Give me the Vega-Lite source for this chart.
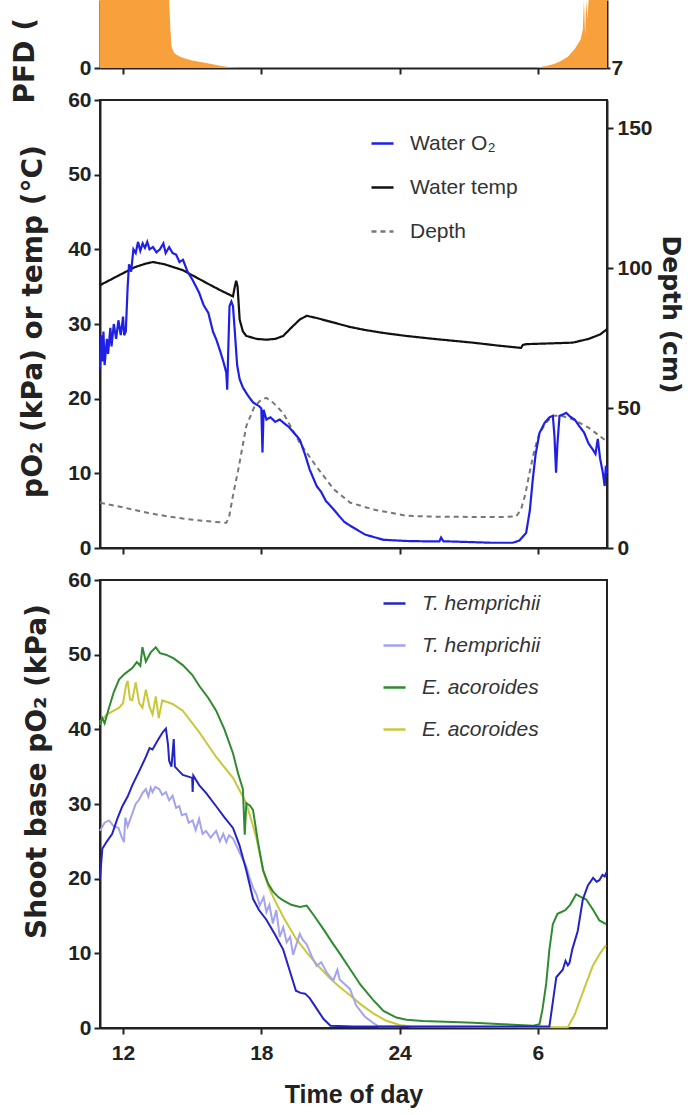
{
  "$schema": "https://vega.github.io/schema/vega-lite/v6.json",
  "background": "white",
  "padding": {"left": 11, "top": 0, "right": 2, "bottom": 2},
  "config": {
    "view": {"stroke": null},
    "axis": {
      "grid": false, "domainColor": "#222", "domainWidth": 2, "tickColor": "#222", "tickWidth": 2, "tickSize": 6,
      "labelFont": "Liberation Sans", "labelFontWeight": "bold", "labelFontSize": 21, "labelColor": "#222", "labelPadding": 3,
      "titleFont": "DejaVu Sans", "titleFontWeight": "bold", "titleFontSize": 28, "titleColor": "#222"
    },
    "legend": {
      "orient": "none", "title": null, "symbolType": "stroke", "symbolSize": 484, "symbolStrokeWidth": 2.5,
      "labelFont": "Liberation Sans", "labelFontSize": 21, "labelColor": "#333",
      "labelOffset": 15, "padding": 0
    }
  },
  "datasets": {
    "pfd": [
      {"time": 11.0, "pfd": 1500}, {"time": 11.5, "pfd": 1600}, {"time": 12.0, "pfd": 1700}, {"time": 12.5, "pfd": 1800},
      {"time": 13.0, "pfd": 1850}, {"time": 13.5, "pfd": 1800}, {"time": 13.9, "pfd": 1600}, {"time": 13.95, "pfd": 1200},
      {"time": 14.0, "pfd": 500}, {"time": 14.05, "pfd": 150}, {"time": 14.1, "pfd": 80}, {"time": 14.2, "pfd": 58},
      {"time": 14.3, "pfd": 50}, {"time": 14.5, "pfd": 40}, {"time": 14.8, "pfd": 32}, {"time": 15.0, "pfd": 28},
      {"time": 15.25, "pfd": 24}, {"time": 15.6, "pfd": 18}, {"time": 16.0, "pfd": 12}, {"time": 16.2, "pfd": 8},
      {"time": 16.5, "pfd": 5}, {"time": 16.8, "pfd": 2}, {"time": 17.1, "pfd": 0}, {"time": 29.9, "pfd": 0},
      {"time": 30.0, "pfd": 2}, {"time": 30.4, "pfd": 8}, {"time": 30.7, "pfd": 15}, {"time": 31.0, "pfd": 26},
      {"time": 31.3, "pfd": 41}, {"time": 31.6, "pfd": 70}, {"time": 31.85, "pfd": 104}, {"time": 31.95, "pfd": 140},
      {"time": 32.0, "pfd": 400}, {"time": 32.05, "pfd": 120}, {"time": 32.1, "pfd": 500}, {"time": 32.15, "pfd": 180},
      {"time": 32.2, "pfd": 700}, {"time": 32.3, "pfd": 900}, {"time": 32.35, "pfd": 300}, {"time": 32.4, "pfd": 1000},
      {"time": 32.5, "pfd": 1100}, {"time": 32.55, "pfd": 400}, {"time": 32.6, "pfd": 1150}, {"time": 32.8, "pfd": 1250},
      {"time": 33.0, "pfd": 1300}
    ],
    "water": [
      {"time": 11.0, "series": "Water temp", "value": 35.2}, {"time": 11.5, "series": "Water temp", "value": 36.0},
      {"time": 12.0, "series": "Water temp", "value": 36.8}, {"time": 12.5, "series": "Water temp", "value": 37.6},
      {"time": 13.0, "series": "Water temp", "value": 38.1}, {"time": 13.3, "series": "Water temp", "value": 38.3},
      {"time": 13.8, "series": "Water temp", "value": 38.0}, {"time": 14.2, "series": "Water temp", "value": 37.6},
      {"time": 14.6, "series": "Water temp", "value": 37.2}, {"time": 15.2, "series": "Water temp", "value": 36.2},
      {"time": 15.8, "series": "Water temp", "value": 35.2}, {"time": 16.3, "series": "Water temp", "value": 34.4},
      {"time": 16.77, "series": "Water temp", "value": 33.7}, {"time": 16.85, "series": "Water temp", "value": 35.0},
      {"time": 16.91, "series": "Water temp", "value": 35.8}, {"time": 16.97, "series": "Water temp", "value": 35.0},
      {"time": 17.06, "series": "Water temp", "value": 30.6}, {"time": 17.2, "series": "Water temp", "value": 29.0},
      {"time": 17.35, "series": "Water temp", "value": 28.4}, {"time": 17.8, "series": "Water temp", "value": 28.0},
      {"time": 18.22, "series": "Water temp", "value": 27.9}, {"time": 18.6, "series": "Water temp", "value": 28.0},
      {"time": 18.95, "series": "Water temp", "value": 28.4}, {"time": 19.3, "series": "Water temp", "value": 29.5},
      {"time": 19.67, "series": "Water temp", "value": 30.6}, {"time": 19.97, "series": "Water temp", "value": 31.1},
      {"time": 20.4, "series": "Water temp", "value": 30.8}, {"time": 21.13, "series": "Water temp", "value": 30.2},
      {"time": 21.85, "series": "Water temp", "value": 29.6}, {"time": 22.5, "series": "Water temp", "value": 29.2},
      {"time": 23.3, "series": "Water temp", "value": 28.8}, {"time": 24.29, "series": "Water temp", "value": 28.4},
      {"time": 25.5, "series": "Water temp", "value": 28.0}, {"time": 27.18, "series": "Water temp", "value": 27.5},
      {"time": 28.3, "series": "Water temp", "value": 27.1}, {"time": 29.27, "series": "Water temp", "value": 26.8},
      {"time": 29.35, "series": "Water temp", "value": 27.2}, {"time": 29.49, "series": "Water temp", "value": 27.3},
      {"time": 30.5, "series": "Water temp", "value": 27.4}, {"time": 31.51, "series": "Water temp", "value": 27.5},
      {"time": 32.2, "series": "Water temp", "value": 28.0}, {"time": 32.7, "series": "Water temp", "value": 28.6},
      {"time": 33.0, "series": "Water temp", "value": 29.3},
      {"time": 11.0, "series": "Water O₂", "value": 24}, {"time": 11.05, "series": "Water O₂", "value": 28.5},
      {"time": 11.1, "series": "Water O₂", "value": 25}, {"time": 11.15, "series": "Water O₂", "value": 29},
      {"time": 11.2, "series": "Water O₂", "value": 24.5}, {"time": 11.3, "series": "Water O₂", "value": 28},
      {"time": 11.35, "series": "Water O₂", "value": 26}, {"time": 11.45, "series": "Water O₂", "value": 29.5},
      {"time": 11.5, "series": "Water O₂", "value": 27}, {"time": 11.6, "series": "Water O₂", "value": 30},
      {"time": 11.7, "series": "Water O₂", "value": 28}, {"time": 11.8, "series": "Water O₂", "value": 30.5},
      {"time": 11.9, "series": "Water O₂", "value": 28.5}, {"time": 12.0, "series": "Water O₂", "value": 31},
      {"time": 12.05, "series": "Water O₂", "value": 28.5}, {"time": 12.12, "series": "Water O₂", "value": 29},
      {"time": 12.2, "series": "Water O₂", "value": 35}, {"time": 12.26, "series": "Water O₂", "value": 38},
      {"time": 12.35, "series": "Water O₂", "value": 37}, {"time": 12.45, "series": "Water O₂", "value": 40},
      {"time": 12.55, "series": "Water O₂", "value": 39.5}, {"time": 12.65, "series": "Water O₂", "value": 41},
      {"time": 12.75, "series": "Water O₂", "value": 39.8}, {"time": 12.85, "series": "Water O₂", "value": 40.8},
      {"time": 12.95, "series": "Water O₂", "value": 40.2}, {"time": 13.05, "series": "Water O₂", "value": 41},
      {"time": 13.15, "series": "Water O₂", "value": 40}, {"time": 13.3, "series": "Water O₂", "value": 40.3},
      {"time": 13.45, "series": "Water O₂", "value": 39.6}, {"time": 13.6, "series": "Water O₂", "value": 40},
      {"time": 13.75, "series": "Water O₂", "value": 40.8}, {"time": 13.85, "series": "Water O₂", "value": 39.5},
      {"time": 14.0, "series": "Water O₂", "value": 40.3}, {"time": 14.15, "series": "Water O₂", "value": 39.5},
      {"time": 14.3, "series": "Water O₂", "value": 39.3}, {"time": 14.45, "series": "Water O₂", "value": 38.3},
      {"time": 14.6, "series": "Water O₂", "value": 38.6}, {"time": 14.8, "series": "Water O₂", "value": 37},
      {"time": 15.0, "series": "Water O₂", "value": 36}, {"time": 15.3, "series": "Water O₂", "value": 34.2},
      {"time": 15.5, "series": "Water O₂", "value": 32.5}, {"time": 15.7, "series": "Water O₂", "value": 31.5},
      {"time": 15.9, "series": "Water O₂", "value": 29}, {"time": 16.05, "series": "Water O₂", "value": 27.9},
      {"time": 16.2, "series": "Water O₂", "value": 26.5}, {"time": 16.35, "series": "Water O₂", "value": 25},
      {"time": 16.48, "series": "Water O₂", "value": 23.5}, {"time": 16.52, "series": "Water O₂", "value": 21.2},
      {"time": 16.57, "series": "Water O₂", "value": 27}, {"time": 16.62, "series": "Water O₂", "value": 32.4},
      {"time": 16.7, "series": "Water O₂", "value": 33}, {"time": 16.77, "series": "Water O₂", "value": 32.4},
      {"time": 16.85, "series": "Water O₂", "value": 29}, {"time": 16.95, "series": "Water O₂", "value": 24.5},
      {"time": 17.06, "series": "Water O₂", "value": 22.6}, {"time": 17.2, "series": "Water O₂", "value": 21.5},
      {"time": 17.4, "series": "Water O₂", "value": 20.5}, {"time": 17.64, "series": "Water O₂", "value": 19.5},
      {"time": 17.9, "series": "Water O₂", "value": 19}, {"time": 18.0, "series": "Water O₂", "value": 18.7},
      {"time": 18.05, "series": "Water O₂", "value": 12.8}, {"time": 18.1, "series": "Water O₂", "value": 18.5},
      {"time": 18.22, "series": "Water O₂", "value": 17.2}, {"time": 18.4, "series": "Water O₂", "value": 17.5},
      {"time": 18.6, "series": "Water O₂", "value": 16.9}, {"time": 18.8, "series": "Water O₂", "value": 17.2},
      {"time": 18.95, "series": "Water O₂", "value": 16.8}, {"time": 19.2, "series": "Water O₂", "value": 16.2},
      {"time": 19.45, "series": "Water O₂", "value": 15.3}, {"time": 19.67, "series": "Water O₂", "value": 14.5},
      {"time": 19.9, "series": "Water O₂", "value": 12.5}, {"time": 20.1, "series": "Water O₂", "value": 10.5},
      {"time": 20.4, "series": "Water O₂", "value": 8.3}, {"time": 20.6, "series": "Water O₂", "value": 7.5},
      {"time": 20.8, "series": "Water O₂", "value": 6.3}, {"time": 21.13, "series": "Water O₂", "value": 5.2},
      {"time": 21.4, "series": "Water O₂", "value": 4.2}, {"time": 21.6, "series": "Water O₂", "value": 3.5},
      {"time": 21.85, "series": "Water O₂", "value": 3.0}, {"time": 22.12, "series": "Water O₂", "value": 2.5},
      {"time": 22.5, "series": "Water O₂", "value": 1.8}, {"time": 22.84, "series": "Water O₂", "value": 1.5},
      {"time": 23.3, "series": "Water O₂", "value": 1.1}, {"time": 24.3, "series": "Water O₂", "value": 0.94},
      {"time": 25.0, "series": "Water O₂", "value": 0.9}, {"time": 25.73, "series": "Water O₂", "value": 0.9},
      {"time": 25.8, "series": "Water O₂", "value": 1.4}, {"time": 25.9, "series": "Water O₂", "value": 0.9},
      {"time": 27.0, "series": "Water O₂", "value": 0.8}, {"time": 28.0, "series": "Water O₂", "value": 0.7},
      {"time": 28.91, "series": "Water O₂", "value": 0.7}, {"time": 29.2, "series": "Water O₂", "value": 1.0},
      {"time": 29.49, "series": "Water O₂", "value": 2.0}, {"time": 29.65, "series": "Water O₂", "value": 5},
      {"time": 29.78, "series": "Water O₂", "value": 9.2}, {"time": 29.9, "series": "Water O₂", "value": 12.5},
      {"time": 30.07, "series": "Water O₂", "value": 15.4}, {"time": 30.3, "series": "Water O₂", "value": 16.8},
      {"time": 30.5, "series": "Water O₂", "value": 17.5}, {"time": 30.65, "series": "Water O₂", "value": 17.7},
      {"time": 30.72, "series": "Water O₂", "value": 15}, {"time": 30.79, "series": "Water O₂", "value": 10.1},
      {"time": 30.85, "series": "Water O₂", "value": 14}, {"time": 30.94, "series": "Water O₂", "value": 17.7},
      {"time": 31.1, "series": "Water O₂", "value": 17.9}, {"time": 31.23, "series": "Water O₂", "value": 18.1},
      {"time": 31.4, "series": "Water O₂", "value": 17.6}, {"time": 31.6, "series": "Water O₂", "value": 17.2},
      {"time": 31.8, "series": "Water O₂", "value": 16.3}, {"time": 32.0, "series": "Water O₂", "value": 15.5},
      {"time": 32.2, "series": "Water O₂", "value": 14}, {"time": 32.38, "series": "Water O₂", "value": 13.2},
      {"time": 32.5, "series": "Water O₂", "value": 12.6}, {"time": 32.6, "series": "Water O₂", "value": 14.6},
      {"time": 32.7, "series": "Water O₂", "value": 12}, {"time": 32.82, "series": "Water O₂", "value": 10.1},
      {"time": 32.9, "series": "Water O₂", "value": 8.3}, {"time": 32.95, "series": "Water O₂", "value": 11},
      {"time": 33.0, "series": "Water O₂", "value": 10}
    ],
    "depth": [
      {"time": 11.0, "series": "Depth", "depth": 16.2}, {"time": 12.0, "series": "Depth", "depth": 14.5},
      {"time": 13.1, "series": "Depth", "depth": 12.5}, {"time": 14.0, "series": "Depth", "depth": 11.2},
      {"time": 14.6, "series": "Depth", "depth": 10.5}, {"time": 15.5, "series": "Depth", "depth": 9.7},
      {"time": 16.0, "series": "Depth", "depth": 9.3}, {"time": 16.48, "series": "Depth", "depth": 9.0},
      {"time": 16.6, "series": "Depth", "depth": 11}, {"time": 16.77, "series": "Depth", "depth": 18.7},
      {"time": 17.0, "series": "Depth", "depth": 28}, {"time": 17.35, "series": "Depth", "depth": 43.6},
      {"time": 17.7, "series": "Depth", "depth": 50.5}, {"time": 18.0, "series": "Depth", "depth": 53},
      {"time": 18.22, "series": "Depth", "depth": 53.6}, {"time": 18.5, "series": "Depth", "depth": 52},
      {"time": 18.95, "series": "Depth", "depth": 48.2}, {"time": 19.3, "series": "Depth", "depth": 43},
      {"time": 19.67, "series": "Depth", "depth": 37.5}, {"time": 20.4, "series": "Depth", "depth": 29},
      {"time": 21.13, "series": "Depth", "depth": 21.1}, {"time": 21.85, "series": "Depth", "depth": 16.2},
      {"time": 22.84, "series": "Depth", "depth": 13.8}, {"time": 24.29, "series": "Depth", "depth": 11.5},
      {"time": 25.5, "series": "Depth", "depth": 11.2}, {"time": 27.0, "series": "Depth", "depth": 11.1},
      {"time": 28.5, "series": "Depth", "depth": 11.1}, {"time": 29.06, "series": "Depth", "depth": 11.3},
      {"time": 29.27, "series": "Depth", "depth": 13.8}, {"time": 29.45, "series": "Depth", "depth": 19},
      {"time": 29.64, "series": "Depth", "depth": 26.9}, {"time": 29.85, "series": "Depth", "depth": 35},
      {"time": 30.07, "series": "Depth", "depth": 41}, {"time": 30.36, "series": "Depth", "depth": 44.8},
      {"time": 30.65, "series": "Depth", "depth": 47.2}, {"time": 31.0, "series": "Depth", "depth": 47.3},
      {"time": 31.5, "series": "Depth", "depth": 46}, {"time": 32.2, "series": "Depth", "depth": 43},
      {"time": 33.0, "series": "Depth", "depth": 38}
    ],
    "shoot": [
      {"time": 11.0, "plant": "E. acoroides 2", "po2": 41}, {"time": 11.3, "plant": "E. acoroides 2", "po2": 42},
      {"time": 11.6, "plant": "E. acoroides 2", "po2": 42.5}, {"time": 11.83, "plant": "E. acoroides 2", "po2": 42.9},
      {"time": 12.0, "plant": "E. acoroides 2", "po2": 43.5}, {"time": 12.12, "plant": "E. acoroides 2", "po2": 45.8},
      {"time": 12.2, "plant": "E. acoroides 2", "po2": 46.5}, {"time": 12.3, "plant": "E. acoroides 2", "po2": 44},
      {"time": 12.4, "plant": "E. acoroides 2", "po2": 43.9}, {"time": 12.55, "plant": "E. acoroides 2", "po2": 46.3},
      {"time": 12.7, "plant": "E. acoroides 2", "po2": 43.5}, {"time": 12.84, "plant": "E. acoroides 2", "po2": 42.9},
      {"time": 12.99, "plant": "E. acoroides 2", "po2": 45.3}, {"time": 13.15, "plant": "E. acoroides 2", "po2": 43},
      {"time": 13.28, "plant": "E. acoroides 2", "po2": 42.0}, {"time": 13.42, "plant": "E. acoroides 2", "po2": 44.4},
      {"time": 13.55, "plant": "E. acoroides 2", "po2": 41.5}, {"time": 13.7, "plant": "E. acoroides 2", "po2": 43.9},
      {"time": 14.15, "plant": "E. acoroides 2", "po2": 43.4}, {"time": 14.59, "plant": "E. acoroides 2", "po2": 42.5},
      {"time": 15.31, "plant": "E. acoroides 2", "po2": 39.6}, {"time": 16.04, "plant": "E. acoroides 2", "po2": 36.3},
      {"time": 16.77, "plant": "E. acoroides 2", "po2": 33.5}, {"time": 17.35, "plant": "E. acoroides 2", "po2": 30.1},
      {"time": 17.6, "plant": "E. acoroides 2", "po2": 27.5}, {"time": 17.79, "plant": "E. acoroides 2", "po2": 25.4},
      {"time": 18.08, "plant": "E. acoroides 2", "po2": 21.1}, {"time": 18.3, "plant": "E. acoroides 2", "po2": 19},
      {"time": 18.6, "plant": "E. acoroides 2", "po2": 17}, {"time": 19.0, "plant": "E. acoroides 2", "po2": 14.6},
      {"time": 19.5, "plant": "E. acoroides 2", "po2": 12}, {"time": 20.0, "plant": "E. acoroides 2", "po2": 10},
      {"time": 20.5, "plant": "E. acoroides 2", "po2": 8.2}, {"time": 21.0, "plant": "E. acoroides 2", "po2": 6.6},
      {"time": 21.4, "plant": "E. acoroides 2", "po2": 5.5}, {"time": 21.85, "plant": "E. acoroides 2", "po2": 4.4},
      {"time": 22.3, "plant": "E. acoroides 2", "po2": 3.2}, {"time": 22.84, "plant": "E. acoroides 2", "po2": 2.0},
      {"time": 23.4, "plant": "E. acoroides 2", "po2": 1.0}, {"time": 24.0, "plant": "E. acoroides 2", "po2": 0.4},
      {"time": 24.5, "plant": "E. acoroides 2", "po2": 0.2}, {"time": 31.3, "plant": "E. acoroides 2", "po2": 0.1},
      {"time": 31.6, "plant": "E. acoroides 2", "po2": 1.8}, {"time": 31.8, "plant": "E. acoroides 2", "po2": 3.5},
      {"time": 32.1, "plant": "E. acoroides 2", "po2": 6}, {"time": 32.38, "plant": "E. acoroides 2", "po2": 8.3},
      {"time": 32.7, "plant": "E. acoroides 2", "po2": 10}, {"time": 32.96, "plant": "E. acoroides 2", "po2": 11.1},

      {"time": 11.0, "plant": "T. hemprichii 2", "po2": 26.4}, {"time": 11.2, "plant": "T. hemprichii 2", "po2": 27.5},
      {"time": 11.39, "plant": "T. hemprichii 2", "po2": 27.8}, {"time": 11.6, "plant": "T. hemprichii 2", "po2": 27},
      {"time": 11.8, "plant": "T. hemprichii 2", "po2": 26.8}, {"time": 11.95, "plant": "T. hemprichii 2", "po2": 25.5},
      {"time": 12.04, "plant": "T. hemprichii 2", "po2": 24.9}, {"time": 12.1, "plant": "T. hemprichii 2", "po2": 28.2},
      {"time": 12.2, "plant": "T. hemprichii 2", "po2": 27}, {"time": 12.4, "plant": "T. hemprichii 2", "po2": 28.7},
      {"time": 12.55, "plant": "T. hemprichii 2", "po2": 30}, {"time": 12.7, "plant": "T. hemprichii 2", "po2": 30.6},
      {"time": 12.85, "plant": "T. hemprichii 2", "po2": 31.5}, {"time": 12.99, "plant": "T. hemprichii 2", "po2": 32.0},
      {"time": 13.1, "plant": "T. hemprichii 2", "po2": 31}, {"time": 13.2, "plant": "T. hemprichii 2", "po2": 32.2},
      {"time": 13.28, "plant": "T. hemprichii 2", "po2": 31.6}, {"time": 13.4, "plant": "T. hemprichii 2", "po2": 32.3},
      {"time": 13.57, "plant": "T. hemprichii 2", "po2": 32.0}, {"time": 13.7, "plant": "T. hemprichii 2", "po2": 31.2},
      {"time": 13.86, "plant": "T. hemprichii 2", "po2": 31.6}, {"time": 14.0, "plant": "T. hemprichii 2", "po2": 30.5},
      {"time": 14.15, "plant": "T. hemprichii 2", "po2": 31.1}, {"time": 14.3, "plant": "T. hemprichii 2", "po2": 29.5},
      {"time": 14.44, "plant": "T. hemprichii 2", "po2": 29.7}, {"time": 14.55, "plant": "T. hemprichii 2", "po2": 28.5},
      {"time": 14.73, "plant": "T. hemprichii 2", "po2": 28.7}, {"time": 14.85, "plant": "T. hemprichii 2", "po2": 27.5},
      {"time": 15.02, "plant": "T. hemprichii 2", "po2": 27.8}, {"time": 15.15, "plant": "T. hemprichii 2", "po2": 26.5},
      {"time": 15.3, "plant": "T. hemprichii 2", "po2": 28}, {"time": 15.45, "plant": "T. hemprichii 2", "po2": 26},
      {"time": 15.6, "plant": "T. hemprichii 2", "po2": 26.4}, {"time": 15.8, "plant": "T. hemprichii 2", "po2": 25.5},
      {"time": 16.04, "plant": "T. hemprichii 2", "po2": 26.4}, {"time": 16.2, "plant": "T. hemprichii 2", "po2": 25},
      {"time": 16.35, "plant": "T. hemprichii 2", "po2": 26}, {"time": 16.48, "plant": "T. hemprichii 2", "po2": 24.9},
      {"time": 16.6, "plant": "T. hemprichii 2", "po2": 25.8}, {"time": 16.77, "plant": "T. hemprichii 2", "po2": 25.4},
      {"time": 17.06, "plant": "T. hemprichii 2", "po2": 23.5}, {"time": 17.35, "plant": "T. hemprichii 2", "po2": 21.6},
      {"time": 17.5, "plant": "T. hemprichii 2", "po2": 20}, {"time": 17.64, "plant": "T. hemprichii 2", "po2": 18.8},
      {"time": 17.8, "plant": "T. hemprichii 2", "po2": 17.8}, {"time": 17.93, "plant": "T. hemprichii 2", "po2": 16.4},
      {"time": 18.1, "plant": "T. hemprichii 2", "po2": 17.5}, {"time": 18.22, "plant": "T. hemprichii 2", "po2": 15.5},
      {"time": 18.35, "plant": "T. hemprichii 2", "po2": 16.5}, {"time": 18.5, "plant": "T. hemprichii 2", "po2": 14},
      {"time": 18.65, "plant": "T. hemprichii 2", "po2": 15.8}, {"time": 18.8, "plant": "T. hemprichii 2", "po2": 12.2},
      {"time": 18.95, "plant": "T. hemprichii 2", "po2": 13.5}, {"time": 19.1, "plant": "T. hemprichii 2", "po2": 11.5},
      {"time": 19.25, "plant": "T. hemprichii 2", "po2": 12.2}, {"time": 19.38, "plant": "T. hemprichii 2", "po2": 9.8},
      {"time": 19.5, "plant": "T. hemprichii 2", "po2": 11}, {"time": 19.67, "plant": "T. hemprichii 2", "po2": 12.6},
      {"time": 19.8, "plant": "T. hemprichii 2", "po2": 11.8}, {"time": 19.97, "plant": "T. hemprichii 2", "po2": 11.2},
      {"time": 20.2, "plant": "T. hemprichii 2", "po2": 9.5}, {"time": 20.4, "plant": "T. hemprichii 2", "po2": 8.3},
      {"time": 20.6, "plant": "T. hemprichii 2", "po2": 8.8}, {"time": 20.84, "plant": "T. hemprichii 2", "po2": 7.4},
      {"time": 21.0, "plant": "T. hemprichii 2", "po2": 6.8}, {"time": 21.13, "plant": "T. hemprichii 2", "po2": 6.4},
      {"time": 21.3, "plant": "T. hemprichii 2", "po2": 7.8}, {"time": 21.4, "plant": "T. hemprichii 2", "po2": 6.5},
      {"time": 21.85, "plant": "T. hemprichii 2", "po2": 5.2}, {"time": 22.12, "plant": "T. hemprichii 2", "po2": 3},
      {"time": 22.5, "plant": "T. hemprichii 2", "po2": 1.5}, {"time": 22.84, "plant": "T. hemprichii 2", "po2": 0.7},
      {"time": 23.1, "plant": "T. hemprichii 2", "po2": 0.2}, {"time": 24.0, "plant": "T. hemprichii 2", "po2": 0.2},

      {"time": 11.0, "plant": "E. acoroides 1", "po2": 40.6}, {"time": 11.1, "plant": "E. acoroides 1", "po2": 41.5},
      {"time": 11.2, "plant": "E. acoroides 1", "po2": 40.8}, {"time": 11.39, "plant": "E. acoroides 1", "po2": 42.9},
      {"time": 11.6, "plant": "E. acoroides 1", "po2": 45}, {"time": 11.83, "plant": "E. acoroides 1", "po2": 46.7},
      {"time": 12.1, "plant": "E. acoroides 1", "po2": 47.5}, {"time": 12.4, "plant": "E. acoroides 1", "po2": 48.2},
      {"time": 12.6, "plant": "E. acoroides 1", "po2": 49}, {"time": 12.75, "plant": "E. acoroides 1", "po2": 48.5},
      {"time": 12.84, "plant": "E. acoroides 1", "po2": 51.0}, {"time": 12.99, "plant": "E. acoroides 1", "po2": 49.1},
      {"time": 13.2, "plant": "E. acoroides 1", "po2": 50.3}, {"time": 13.42, "plant": "E. acoroides 1", "po2": 51.0},
      {"time": 13.6, "plant": "E. acoroides 1", "po2": 50.2}, {"time": 13.86, "plant": "E. acoroides 1", "po2": 50.0},
      {"time": 14.2, "plant": "E. acoroides 1", "po2": 49.5}, {"time": 14.59, "plant": "E. acoroides 1", "po2": 48.6},
      {"time": 15.0, "plant": "E. acoroides 1", "po2": 47.3}, {"time": 15.31, "plant": "E. acoroides 1", "po2": 45.8},
      {"time": 15.7, "plant": "E. acoroides 1", "po2": 44.2}, {"time": 16.04, "plant": "E. acoroides 1", "po2": 42.5},
      {"time": 16.4, "plant": "E. acoroides 1", "po2": 40}, {"time": 16.77, "plant": "E. acoroides 1", "po2": 36.8},
      {"time": 17.0, "plant": "E. acoroides 1", "po2": 34}, {"time": 17.2, "plant": "E. acoroides 1", "po2": 32.0},
      {"time": 17.28, "plant": "E. acoroides 1", "po2": 25.9}, {"time": 17.35, "plant": "E. acoroides 1", "po2": 30.1},
      {"time": 17.5, "plant": "E. acoroides 1", "po2": 29.8}, {"time": 17.64, "plant": "E. acoroides 1", "po2": 29.2},
      {"time": 17.85, "plant": "E. acoroides 1", "po2": 25}, {"time": 18.08, "plant": "E. acoroides 1", "po2": 21.1},
      {"time": 18.3, "plant": "E. acoroides 1", "po2": 19.3}, {"time": 18.5, "plant": "E. acoroides 1", "po2": 18.3},
      {"time": 18.75, "plant": "E. acoroides 1", "po2": 17.5}, {"time": 18.95, "plant": "E. acoroides 1", "po2": 17.1},
      {"time": 19.3, "plant": "E. acoroides 1", "po2": 16.5}, {"time": 19.67, "plant": "E. acoroides 1", "po2": 16.2},
      {"time": 19.97, "plant": "E. acoroides 1", "po2": 16.4}, {"time": 20.3, "plant": "E. acoroides 1", "po2": 15},
      {"time": 20.7, "plant": "E. acoroides 1", "po2": 13.2}, {"time": 21.13, "plant": "E. acoroides 1", "po2": 11.2},
      {"time": 21.4, "plant": "E. acoroides 1", "po2": 10.0}, {"time": 21.85, "plant": "E. acoroides 1", "po2": 7.9},
      {"time": 22.3, "plant": "E. acoroides 1", "po2": 5.8}, {"time": 22.84, "plant": "E. acoroides 1", "po2": 3.8},
      {"time": 23.3, "plant": "E. acoroides 1", "po2": 2.3}, {"time": 23.86, "plant": "E. acoroides 1", "po2": 1.4},
      {"time": 24.3, "plant": "E. acoroides 1", "po2": 1.1}, {"time": 25.0, "plant": "E. acoroides 1", "po2": 0.95},
      {"time": 26.0, "plant": "E. acoroides 1", "po2": 0.85}, {"time": 27.2, "plant": "E. acoroides 1", "po2": 0.7},
      {"time": 28.5, "plant": "E. acoroides 1", "po2": 0.5}, {"time": 29.8, "plant": "E. acoroides 1", "po2": 0.3},
      {"time": 30.07, "plant": "E. acoroides 1", "po2": 0.5}, {"time": 30.2, "plant": "E. acoroides 1", "po2": 2.5},
      {"time": 30.36, "plant": "E. acoroides 1", "po2": 5.9}, {"time": 30.5, "plant": "E. acoroides 1", "po2": 10.5},
      {"time": 30.65, "plant": "E. acoroides 1", "po2": 13.9}, {"time": 30.85, "plant": "E. acoroides 1", "po2": 15.3},
      {"time": 31.0, "plant": "E. acoroides 1", "po2": 15.5}, {"time": 31.2, "plant": "E. acoroides 1", "po2": 15.8},
      {"time": 31.4, "plant": "E. acoroides 1", "po2": 16.5}, {"time": 31.66, "plant": "E. acoroides 1", "po2": 17.9},
      {"time": 31.9, "plant": "E. acoroides 1", "po2": 17.5}, {"time": 32.1, "plant": "E. acoroides 1", "po2": 17.2},
      {"time": 32.4, "plant": "E. acoroides 1", "po2": 15.8}, {"time": 32.67, "plant": "E. acoroides 1", "po2": 14.4},
      {"time": 32.96, "plant": "E. acoroides 1", "po2": 13.9},

      {"time": 11.0, "plant": "T. hemprichii 1", "po2": 20}, {"time": 11.1, "plant": "T. hemprichii 1", "po2": 24},
      {"time": 11.3, "plant": "T. hemprichii 1", "po2": 25}, {"time": 11.53, "plant": "T. hemprichii 1", "po2": 26},
      {"time": 11.75, "plant": "T. hemprichii 1", "po2": 28}, {"time": 11.97, "plant": "T. hemprichii 1", "po2": 29.7},
      {"time": 12.2, "plant": "T. hemprichii 1", "po2": 31}, {"time": 12.4, "plant": "T. hemprichii 1", "po2": 32.5},
      {"time": 12.7, "plant": "T. hemprichii 1", "po2": 34.4}, {"time": 12.99, "plant": "T. hemprichii 1", "po2": 36.3},
      {"time": 13.15, "plant": "T. hemprichii 1", "po2": 37.5}, {"time": 13.28, "plant": "T. hemprichii 1", "po2": 37.3},
      {"time": 13.5, "plant": "T. hemprichii 1", "po2": 38.5}, {"time": 13.72, "plant": "T. hemprichii 1", "po2": 39.6},
      {"time": 13.86, "plant": "T. hemprichii 1", "po2": 40.1}, {"time": 13.95, "plant": "T. hemprichii 1", "po2": 38},
      {"time": 14.0, "plant": "T. hemprichii 1", "po2": 35.8}, {"time": 14.1, "plant": "T. hemprichii 1", "po2": 35},
      {"time": 14.2, "plant": "T. hemprichii 1", "po2": 38.7}, {"time": 14.25, "plant": "T. hemprichii 1", "po2": 35},
      {"time": 14.4, "plant": "T. hemprichii 1", "po2": 34.5}, {"time": 14.59, "plant": "T. hemprichii 1", "po2": 33.9},
      {"time": 14.8, "plant": "T. hemprichii 1", "po2": 33.7}, {"time": 15.0, "plant": "T. hemprichii 1", "po2": 33.5},
      {"time": 15.02, "plant": "T. hemprichii 1", "po2": 31.6}, {"time": 15.05, "plant": "T. hemprichii 1", "po2": 33.8},
      {"time": 15.31, "plant": "T. hemprichii 1", "po2": 32.5}, {"time": 15.6, "plant": "T. hemprichii 1", "po2": 31.5},
      {"time": 16.04, "plant": "T. hemprichii 1", "po2": 29.7}, {"time": 16.4, "plant": "T. hemprichii 1", "po2": 28.2},
      {"time": 16.77, "plant": "T. hemprichii 1", "po2": 26.8}, {"time": 17.05, "plant": "T. hemprichii 1", "po2": 24.5},
      {"time": 17.35, "plant": "T. hemprichii 1", "po2": 21.1}, {"time": 17.64, "plant": "T. hemprichii 1", "po2": 17.3},
      {"time": 17.9, "plant": "T. hemprichii 1", "po2": 15.8}, {"time": 18.22, "plant": "T. hemprichii 1", "po2": 14.5},
      {"time": 18.6, "plant": "T. hemprichii 1", "po2": 12.5}, {"time": 18.95, "plant": "T. hemprichii 1", "po2": 10.5},
      {"time": 19.3, "plant": "T. hemprichii 1", "po2": 7}, {"time": 19.5, "plant": "T. hemprichii 1", "po2": 5},
      {"time": 19.7, "plant": "T. hemprichii 1", "po2": 4.7}, {"time": 19.9, "plant": "T. hemprichii 1", "po2": 4.6},
      {"time": 20.1, "plant": "T. hemprichii 1", "po2": 4}, {"time": 20.4, "plant": "T. hemprichii 1", "po2": 2.6},
      {"time": 20.7, "plant": "T. hemprichii 1", "po2": 1.2}, {"time": 21.0, "plant": "T. hemprichii 1", "po2": 0.3},
      {"time": 22.0, "plant": "T. hemprichii 1", "po2": 0.2}, {"time": 25.0, "plant": "T. hemprichii 1", "po2": 0.2},
      {"time": 28.0, "plant": "T. hemprichii 1", "po2": 0.2}, {"time": 30.5, "plant": "T. hemprichii 1", "po2": 0.2},
      {"time": 30.65, "plant": "T. hemprichii 1", "po2": 3.5}, {"time": 30.8, "plant": "T. hemprichii 1", "po2": 6.8},
      {"time": 31.08, "plant": "T. hemprichii 1", "po2": 7.8}, {"time": 31.2, "plant": "T. hemprichii 1", "po2": 9},
      {"time": 31.3, "plant": "T. hemprichii 1", "po2": 8.4}, {"time": 31.37, "plant": "T. hemprichii 1", "po2": 8.7},
      {"time": 31.5, "plant": "T. hemprichii 1", "po2": 10.6}, {"time": 31.73, "plant": "T. hemprichii 1", "po2": 13},
      {"time": 31.95, "plant": "T. hemprichii 1", "po2": 17.2}, {"time": 32.17, "plant": "T. hemprichii 1", "po2": 19.1},
      {"time": 32.4, "plant": "T. hemprichii 1", "po2": 20.1}, {"time": 32.55, "plant": "T. hemprichii 1", "po2": 19.6},
      {"time": 32.67, "plant": "T. hemprichii 1", "po2": 19.8}, {"time": 32.8, "plant": "T. hemprichii 1", "po2": 20.5},
      {"time": 32.9, "plant": "T. hemprichii 1", "po2": 20.3}, {"time": 33.0, "plant": "T. hemprichii 1", "po2": 21}
    ]
  },
  "spacing": 32,
  "bounds": "flush",
  "resolve": {"scale": {"color": "independent", "strokeDash": "independent"}},
  "vconcat": [
    {
      "width": 507, "height": 68,
      "layer": [
        {
          "data": {"name": "pfd"},
          "mark": {"type": "area", "color": "#f7a03c", "opacity": 1},
          "encoding": {
            "x": {"field": "time", "type": "quantitative", "scale": {"domain": [11, 33], "nice": false, "zero": false},
                  "axis": {"values": [12, 18, 24, 30], "labels": false, "title": null}},
            "y": {"field": "pfd", "type": "quantitative", "scale": {"domain": [0, 250], "clamp": true, "nice": false},
                  "axis": {"orient": "left", "values": [0], "title": "PFD (", "titleX": -67, "titleY": 103, "titleAlign": "left", "titleBaseline": "alphabetic", "titleAngle": -90}}
          }
        },
        {
          "data": {"values": [{"k": 1}]},
          "mark": {"type": "rule", "opacity": 0},
          "encoding": {
            "y": {"datum": 7, "type": "quantitative", "scale": {"domain": [7, 14], "nice": false, "zero": false},
                  "axis": {"orient": "right", "values": [7], "title": null, "tickSize": 3, "labelPadding": 1}}
          }
        }
      ],
      "resolve": {"scale": {"y": "independent"}}
    },
    {
      "width": 507, "height": 448,
      "view": {"stroke": "#222", "strokeWidth": 2},
      "layer": [
        {
          "data": {"name": "depth"},
          "mark": {"type": "line", "strokeWidth": 2},
          "encoding": {
            "x": {"field": "time", "type": "quantitative", "scale": {"domain": [11, 33], "nice": false, "zero": false},
                  "axis": {"values": [12, 18, 24, 30], "labels": false, "title": null}},
            "y": {"field": "depth", "type": "quantitative", "scale": {"domain": [0, 160], "nice": false},
                  "axis": {"orient": "right", "values": [0, 50, 100, 150], "title": "Depth (cm)", "titleFontSize": 25, "titleX": 55, "titleY": 214, "titleBaseline": "alphabetic", "titleAngle": 90, "labelPadding": 4}},
            "color": {"field": "series", "type": "nominal",
                      "scale": {"domain": ["Water O₂", "Water temp", "Depth"], "range": ["#1f1fe6", "#111111", "#777777"]},
                      "legend": {"legendX": 270, "legendY": 31, "rowPadding": 21}},
            "strokeDash": {"field": "series", "type": "nominal",
                      "scale": {"domain": ["Water O₂", "Water temp", "Depth"], "range": [[1, 0], [1, 0], [5, 4]]},
                      "legend": {"legendX": 270, "legendY": 31, "rowPadding": 21}}
          }
        },
        {
          "data": {"name": "water"},
          "mark": {"type": "line", "strokeWidth": 2.2},
          "encoding": {
            "x": {"field": "time", "type": "quantitative", "scale": {"domain": [11, 33], "nice": false, "zero": false},
                  "axis": {"values": [12, 18, 24, 30], "labels": false, "title": null}},
            "y": {"field": "value", "type": "quantitative", "scale": {"domain": [0, 60], "nice": false},
                  "axis": {"orient": "left", "values": [0, 10, 20, 30, 40, 50, 60], "title": "pO₂ (kPa) or temp (°C)", "titleX": -59, "titleY": 221, "titleBaseline": "alphabetic", "titleAngle": -90}},
            "color": {"field": "series", "type": "nominal",
                      "scale": {"domain": ["Water O₂", "Water temp", "Depth"], "range": ["#1f1fe6", "#111111", "#777777"]},
                      "legend": {"legendX": 270, "legendY": 31, "rowPadding": 21}},
            "strokeDash": {"field": "series", "type": "nominal",
                      "scale": {"domain": ["Water O₂", "Water temp", "Depth"], "range": [[1, 0], [1, 0], [5, 4]]},
                      "legend": {"legendX": 270, "legendY": 31, "rowPadding": 21}}
          }
        }
      ],
      "resolve": {"scale": {"y": "independent"}}
    },
    {
      "width": 507, "height": 448,
      "view": {"stroke": "#222", "strokeWidth": 2},
      "data": {"name": "shoot"},
      "mark": {"type": "line", "strokeWidth": 2},
      "encoding": {
        "x": {"field": "time", "type": "quantitative", "scale": {"domain": [11, 33], "nice": false, "zero": false},
              "axis": {"values": [12, 18, 24, 30], "labelExpr": "datum.value > 24 ? '' + (datum.value - 24) : datum.label", "labelPadding": 8,
                       "title": "Time of day", "titleFont": "Liberation Sans", "titleFontSize": 25, "titleY": 74, "titleBaseline": "alphabetic"}},
        "y": {"field": "po2", "type": "quantitative", "scale": {"domain": [0, 60], "nice": false},
              "axis": {"values": [0, 10, 20, 30, 40, 50, 60], "title": "Shoot base pO₂ (kPa)", "titleX": -55, "titleY": 191, "titleBaseline": "alphabetic", "titleAngle": -90}},
        "color": {"field": "plant", "type": "nominal",
                  "scale": {"domain": ["T. hemprichii 1", "T. hemprichii 2", "E. acoroides 1", "E. acoroides 2"], "range": ["#2424c4", "#a3a3ef", "#2f8a30", "#c8c83c"]},
                  "legend": {"legendX": 282, "legendY": 11, "rowPadding": 19, "labelFontStyle": "italic",
                             "labelExpr": "substring(datum.label, 0, length(datum.label) - 2)"}}
      }
    }
  ]
}
